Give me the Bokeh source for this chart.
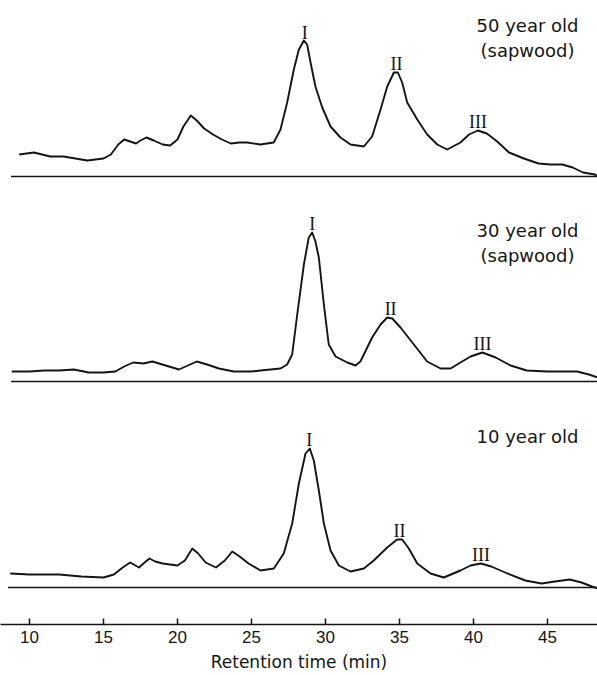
import numpy as np
from bokeh.plotting import figure
from bokeh.models import Range1d, FixedTicker, ColumnDataSource
from bokeh.core.properties import value
from bokeh.embed import file_html
from bokeh.resources import INLINE

# ---------------- data ----------------
# retention time (min) and detector response (arbitrary units above baseline)
t_50 = [9.3, 10.3, 11.4, 12.3, 13.9, 15.0, 15.5, 16.0, 16.4, 16.8, 17.2, 17.5, 17.9, 18.4,
        19.0, 19.5, 20.0, 20.4, 20.9, 21.3, 21.8, 22.4, 23.0, 23.6, 24.2, 24.7, 25.6, 26.5,
        26.96, 27.41, 27.86, 28.2, 28.54, 28.76, 28.99, 29.32, 29.78, 30.34, 31.01, 31.69,
        32.59, 33.15, 33.72, 34.17, 34.62, 34.89, 35.18, 35.52, 36.2, 36.87, 37.55, 38.22,
        39.12, 39.7, 40.3, 40.9, 41.6, 42.4, 43.4, 44.4, 45.2, 46.0, 46.7, 47.4, 48.2, 48.4]
r_50 = [22, 24, 20, 20, 16, 18, 22, 32, 37, 35, 33, 36, 39, 36,
        32, 31, 37, 50, 61, 56, 48, 42, 37, 33, 34, 34, 32, 34,
        47, 74, 107, 127, 136, 132, 114, 90, 69, 50, 39, 32,
        30, 40, 67, 90, 104, 104, 94, 74, 57, 42, 32, 27,
        34, 42, 46, 43, 35, 24, 18, 13, 12, 12, 9, 4, 2, 0]

t_30 = [8.8, 10.0, 11.0, 12.0, 13.0, 14.0, 15.0, 15.8, 16.4, 17.0, 17.7, 18.3, 19.2, 20.1,
        20.7, 21.3, 22.0, 22.8, 23.8, 25.0, 25.61, 26.96, 27.41, 27.75, 28.09, 28.54, 28.87,
        29.1, 29.32, 29.55, 29.89, 30.22, 30.68, 31.47, 32.03, 32.36, 33.15, 33.72, 34.17,
        34.51, 35.07, 35.97, 36.87, 37.77, 38.45, 39.12, 39.8, 40.6, 41.5, 42.5, 43.6, 45.0,
        47.0, 47.8, 48.4]
r_30 = [10, 10, 11, 11, 12, 9, 9, 10, 15, 19, 18, 20, 16, 12,
        16, 20, 17, 13, 10, 10, 11, 13, 17, 27, 67, 117, 144,
        149, 140, 124, 77, 37, 25, 19, 16, 20, 44, 57, 64,
        63, 54, 37, 20, 13, 13, 19, 25, 29, 24, 16, 11, 10,
        10, 7, 4]

t_10 = [8.7, 10.0, 12.0, 13.5, 15.0, 15.7, 16.3, 16.8, 17.4, 17.7, 18.1, 18.5, 19.0, 20.0,
        20.5, 21.0, 21.4, 21.9, 22.6, 23.2, 23.7, 24.2, 24.8, 25.61, 26.51, 27.18, 27.75,
        28.2, 28.65, 28.94, 29.21, 29.55, 29.89, 30.34, 30.9, 31.69, 32.59, 33.26, 34.17,
        34.84, 35.18, 35.63, 36.2, 37.1, 37.99, 39.12, 39.8, 40.5, 41.2, 42.3, 43.5, 44.6,
        45.5, 46.5, 47.3, 48.0, 48.4]
r_10 = [14, 13, 13, 11, 10, 13, 20, 25, 20, 24, 29, 26, 24, 22,
        27, 39, 34, 25, 20, 27, 36, 31, 24, 17, 19, 34, 64,
        104, 134, 139, 127, 97, 64, 37, 22, 16, 19, 27, 40,
        48, 48, 39, 24, 14, 10, 17, 22, 24, 21, 14, 7, 4,
        6, 8, 5, 1, -1]

peak_names = ["I", "II", "III"]
peaks_50 = [28.6, 34.8, 40.3]
peaks_30 = [29.1, 34.4, 40.6]
peaks_10 = [28.9, 35.0, 40.5]

sample_names = ["50 year old", "30 year old", "10 year old"]
sample_notes = ["(sapwood)", "(sapwood)", ""]

tick_values = [10, 15, 20, 25, 30, 35, 40, 45]
x_title = "Retention time (min)"

# ---------------- figure ----------------
W, H = 597, 675
FRAME_H = 624
p = figure(width=W, height=H, output_backend="svg", toolbar_location=None,
           x_range=Range1d(8.041, 48.378), y_range=Range1d(0, FRAME_H),
           y_axis_location=None, min_border_left=0, min_border_right=0,
           min_border_top=0, min_border_bottom=H - FRAME_H)
p.outline_line_color = None
p.grid.visible = False
p.background_fill_color = "white"
p.border_fill_color = "white"

ink = "#141414"
offsets = [448, 243, 37]
traces = [(t_50, r_50, peaks_50), (t_30, r_30, peaks_30), (t_10, r_10, peaks_10)]

for (tt, rr, pk), off, name, note in zip(traces, offsets, sample_names, sample_notes):
    tt = np.array(tt, dtype=float)
    rr = np.array(rr, dtype=float)
    # baseline
    p.line(x=[8.75 if off > 100 else 8.55, 48.4], y=[off, off], line_color=ink, line_width=1.3)
    # trace
    p.line(x=tt, y=off + rr, line_color=ink, line_width=1.9, line_join="round")
    # peak labels
    pk = np.array(pk)
    ly = off + np.interp(pk, tt, rr) + 9
    src = ColumnDataSource(dict(x=pk, y=ly, t=peak_names))
    p.text(x="x", y="y", text="t", source=src, text_align="center",
           text_baseline="alphabetic", text_font=value("Liberation Serif"),
           text_font_size="18px", text_color=ink)
    # sample names
    lines = [s for s in (name, note) if s]
    src2 = ColumnDataSource(dict(x=[43.65] * len(lines),
                                 y=[off + 151 - 25 * i for i in range(len(lines))],
                                 t=lines))
    p.text(x="x", y="y", text="t", source=src2, text_align="center",
           text_baseline="middle", text_font=value("DejaVu Sans"),
           text_font_size="18px", text_color=ink)

ax = p.xaxis[0]
ax.ticker = FixedTicker(ticks=tick_values)
ax.minor_tick_line_color = None
ax.major_tick_in = 6
ax.major_tick_out = 0
ax.major_tick_line_width = 1.5
ax.major_tick_line_color = ink
ax.axis_line_width = 1.6
ax.axis_line_color = ink
ax.major_label_text_font = "Liberation Sans"
ax.major_label_text_font_size = "17px"
ax.major_label_text_color = ink
ax.major_label_standoff = 6
ax.axis_label = x_title
ax.axis_label_text_font = "DejaVu Sans"
ax.axis_label_text_font_size = "17px"
ax.axis_label_text_font_style = "normal"
ax.axis_label_text_color = ink
ax.axis_label_standoff = 6

open("out.html", "w").write(file_html(p, INLINE))
